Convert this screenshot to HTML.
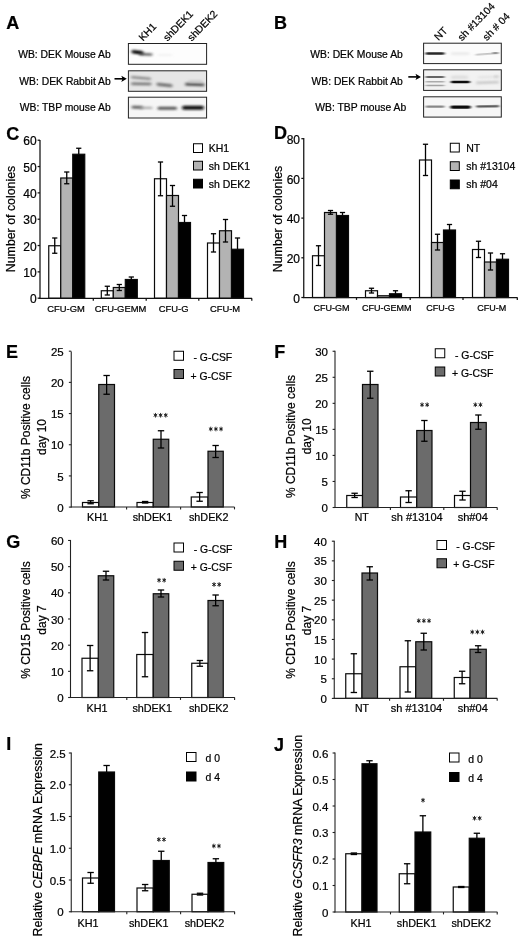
<!DOCTYPE html>
<html><head><meta charset="utf-8"><title>Figure</title>
<style>html,body{margin:0;padding:0;background:#fff;width:520px;height:940px;overflow:hidden}svg{display:block;will-change:transform;opacity:0.999;filter:blur(0.35px)}text{font-family:"Liberation Sans",sans-serif;stroke:#000;stroke-width:0.22px}</style></head>
<body>
<svg width="520" height="940" viewBox="0 0 520 940">
<rect x="0" y="0" width="520" height="940" fill="#fff"/>
<defs><filter id="b1" x="-20%" y="-200%" width="140%" height="500%"><feGaussianBlur stdDeviation="1.1 0.7"/></filter><filter id="b2" x="-20%" y="-200%" width="140%" height="500%"><feGaussianBlur stdDeviation="1.5 0.95"/></filter><filter id="b3" x="-20%" y="-200%" width="140%" height="500%"><feGaussianBlur stdDeviation="1.4 0.65"/></filter></defs>
<text x="6.20" y="28.80" font-size="18" font-weight="bold">A</text>
<text x="110.75" y="58.21" font-size="10.35" text-anchor="end" fill="#000">WB: DEK Mouse Ab</text>
<text x="110.75" y="85.11" font-size="10.35" text-anchor="end" fill="#000">WB: DEK Rabbit Ab</text>
<text x="110.75" y="111.11" font-size="10.35" text-anchor="end" fill="#000">WB: TBP mouse Ab</text>
<line x1="114.50" y1="78.80" x2="124.80" y2="78.80" stroke="#000" stroke-width="1.6"/>
<path d="M121.30 75.70 L126.80 78.80 L121.30 81.90 L122.50 78.80 Z" fill="#000"/>
<rect x="128.40" y="43.50" width="78.20" height="20.80" fill="#fdfdfd" stroke="#222" stroke-width="1"/>
<rect x="128.40" y="70.80" width="78.20" height="20.50" fill="#e6e6e6" stroke="#222" stroke-width="1"/>
<rect x="128.40" y="97.20" width="78.20" height="20.80" fill="#f6f6f6" stroke="#222" stroke-width="1"/>
<text transform="translate(143.00,41.60) rotate(-46)" font-size="10.3">KH1</text>
<text transform="translate(167.50,41.70) rotate(-46)" font-size="10.3">shDEK1</text>
<text transform="translate(191.80,41.70) rotate(-46)" font-size="10.3">shDEK2</text>
<rect x="131.50" y="50.40" width="12.00" height="3.60" rx="1.80" fill="#000" opacity="1" filter="url(#b2)" transform="rotate(7 137.50 52.20)"/>
<rect x="139.00" y="53.20" width="13.50" height="2.20" rx="1.10" fill="#333" opacity="0.85" filter="url(#b2)" transform="rotate(2 145.75 54.30)"/>
<rect x="158.00" y="54.25" width="14.00" height="1.50" rx="0.75" fill="#ddd" opacity="0.5" filter="url(#b2)" transform="rotate(0 165.00 55.00)"/>
<rect x="131.00" y="76.70" width="20.00" height="2.60" rx="1.30" fill="#777" opacity="0.85" filter="url(#b2)" transform="rotate(5 141.00 78.00)"/>
<rect x="131.00" y="82.40" width="20.50" height="2.80" rx="1.40" fill="#666" opacity="0.85" filter="url(#b2)" transform="rotate(1 141.25 83.80)"/>
<rect x="156.50" y="83.60" width="16.00" height="2.80" rx="1.40" fill="#555" opacity="0.85" filter="url(#b2)" transform="rotate(6 164.50 85.00)"/>
<rect x="185.00" y="83.10" width="19.50" height="3.00" rx="1.50" fill="#444" opacity="0.9" filter="url(#b2)" transform="rotate(2 194.75 84.60)"/>
<rect x="188.00" y="80.00" width="15.00" height="3.00" rx="1.50" fill="#bbb" opacity="0.6" filter="url(#b2)" transform="rotate(0 195.50 81.50)"/>
<rect x="131.50" y="105.80" width="11.50" height="3.00" rx="1.50" fill="#555" opacity="0.9" filter="url(#b2)" transform="rotate(2 137.25 107.30)"/>
<rect x="140.00" y="106.70" width="12.50" height="2.40" rx="1.20" fill="#999" opacity="0.8" filter="url(#b2)" transform="rotate(0 146.25 107.90)"/>
<rect x="157.50" y="106.70" width="19.50" height="3.00" rx="1.50" fill="#444" opacity="0.9" filter="url(#b2)" transform="rotate(0 167.25 108.20)"/>
<rect x="182.00" y="105.80" width="22.00" height="4.00" rx="2.00" fill="#0a0a0a" opacity="1" filter="url(#b2)" transform="rotate(0 193.00 107.80)"/>
<text x="274.00" y="28.80" font-size="18" font-weight="bold">B</text>
<text x="402.80" y="58.01" font-size="10.35" text-anchor="end" fill="#000">WB: DEK Mouse Ab</text>
<text x="402.90" y="85.11" font-size="10.35" text-anchor="end" fill="#000">WB: DEK Rabbit Ab</text>
<text x="406.25" y="110.91" font-size="10.35" text-anchor="end" fill="#000">WB: TBP mouse Ab</text>
<line x1="408.30" y1="76.90" x2="419.00" y2="76.90" stroke="#000" stroke-width="1.6"/>
<path d="M415.50 73.80 L421.00 76.90 L415.50 80.00 L416.70 76.90 Z" fill="#000"/>
<rect x="423.60" y="43.20" width="77.70" height="20.40" fill="#fbfbfb" stroke="#222" stroke-width="1"/>
<rect x="423.60" y="69.80" width="77.70" height="20.60" fill="#f2f2f2" stroke="#222" stroke-width="1"/>
<rect x="423.60" y="96.80" width="77.70" height="20.30" fill="#f6f6f6" stroke="#222" stroke-width="1"/>
<text transform="translate(438.50,41.00) rotate(-46)" font-size="10.3">NT</text>
<text transform="translate(462.00,41.50) rotate(-46)" font-size="10.3">sh #13104</text>
<text transform="translate(487.00,41.30) rotate(-46)" font-size="10.3">sh # 04</text>
<rect x="425.50" y="52.15" width="19.00" height="2.50" rx="1.25" fill="#1e1e1e" opacity="0.95" filter="url(#b3)" transform="rotate(0 435.00 53.40)"/>
<rect x="451.00" y="52.70" width="18.50" height="1.80" rx="0.90" fill="#ccc" opacity="0.55" filter="url(#b2)" transform="rotate(0 460.25 53.60)"/>
<rect x="475.50" y="52.95" width="23.50" height="1.90" rx="0.95" fill="#b0b0b0" opacity="0.75" filter="url(#b3)" transform="rotate(-4 487.25 53.90)"/>
<rect x="492.50" y="52.10" width="5.50" height="2.00" rx="1.00" fill="#777" opacity="0.7" filter="url(#b3)" transform="rotate(0 495.25 53.10)"/>
<rect x="425.50" y="76.10" width="19.00" height="2.00" rx="1.00" fill="#555" opacity="0.9" filter="url(#b3)" transform="rotate(0 435.00 77.10)"/>
<rect x="425.50" y="80.95" width="19.00" height="1.50" rx="0.75" fill="#9a9a9a" opacity="0.8" filter="url(#b3)" transform="rotate(0 435.00 81.70)"/>
<rect x="425.50" y="84.65" width="19.00" height="1.50" rx="0.75" fill="#909090" opacity="0.8" filter="url(#b3)" transform="rotate(0 435.00 85.40)"/>
<rect x="450.80" y="80.65" width="19.20" height="2.70" rx="1.35" fill="#0a0a0a" opacity="1" filter="url(#b3)" transform="rotate(0 460.40 82.00)"/>
<rect x="451.00" y="75.80" width="17.00" height="3.00" rx="1.50" fill="#ccc" opacity="0.6" filter="url(#b2)" transform="rotate(0 459.50 77.30)"/>
<rect x="476.00" y="81.60" width="23.00" height="2.00" rx="1.00" fill="#b0b0b0" opacity="0.8" filter="url(#b2)" transform="rotate(-2 487.50 82.60)"/>
<rect x="478.00" y="76.20" width="21.00" height="1.60" rx="0.80" fill="#d4d4d4" opacity="0.7" filter="url(#b2)" transform="rotate(-2 488.50 77.00)"/>
<rect x="494.00" y="75.70" width="4.50" height="1.80" rx="0.90" fill="#aaa" opacity="0.6" filter="url(#b2)" transform="rotate(0 496.25 76.60)"/>
<rect x="425.50" y="105.55" width="19.00" height="2.30" rx="1.15" fill="#7c7c7c" opacity="0.9" filter="url(#b3)" transform="rotate(0 435.00 106.70)"/>
<rect x="450.30" y="105.45" width="20.50" height="3.30" rx="1.65" fill="#111" opacity="1" filter="url(#b3)" transform="rotate(0 460.55 107.10)"/>
<rect x="476.00" y="105.15" width="23.30" height="2.30" rx="1.15" fill="#4a4a4a" opacity="0.9" filter="url(#b3)" transform="rotate(-1 487.65 106.30)"/>
<text x="6.20" y="139.60" font-size="18" font-weight="bold">C</text>
<rect x="48.75" y="245.75" width="12.00" height="52.50" fill="#fff" stroke="#0a0a0a" stroke-width="1.2"/>
<line x1="54.75" y1="238.00" x2="54.75" y2="253.25" stroke="#000" stroke-width="1.3"/>
<line x1="52.15" y1="238.00" x2="57.35" y2="238.00" stroke="#000" stroke-width="1.3"/>
<line x1="52.15" y1="253.25" x2="57.35" y2="253.25" stroke="#000" stroke-width="1.3"/>
<rect x="60.75" y="178.00" width="12.00" height="120.25" fill="#b3b3b3" stroke="#0a0a0a" stroke-width="1.2"/>
<line x1="66.75" y1="172.00" x2="66.75" y2="183.75" stroke="#000" stroke-width="1.3"/>
<line x1="64.15" y1="172.00" x2="69.35" y2="172.00" stroke="#000" stroke-width="1.3"/>
<line x1="64.15" y1="183.75" x2="69.35" y2="183.75" stroke="#000" stroke-width="1.3"/>
<rect x="72.75" y="154.25" width="12.00" height="144.00" fill="#000" stroke="#0a0a0a" stroke-width="1.2"/>
<line x1="78.75" y1="148.25" x2="78.75" y2="154.25" stroke="#000" stroke-width="1.3"/>
<line x1="76.15" y1="148.25" x2="81.35" y2="148.25" stroke="#000" stroke-width="1.3"/>
<rect x="101.30" y="290.75" width="12.00" height="7.50" fill="#fff" stroke="#0a0a0a" stroke-width="1.2"/>
<line x1="107.30" y1="286.25" x2="107.30" y2="295.00" stroke="#000" stroke-width="1.3"/>
<line x1="104.70" y1="286.25" x2="109.90" y2="286.25" stroke="#000" stroke-width="1.3"/>
<line x1="104.70" y1="295.00" x2="109.90" y2="295.00" stroke="#000" stroke-width="1.3"/>
<rect x="113.30" y="287.50" width="12.00" height="10.75" fill="#b3b3b3" stroke="#0a0a0a" stroke-width="1.2"/>
<line x1="119.30" y1="284.50" x2="119.30" y2="290.50" stroke="#000" stroke-width="1.3"/>
<line x1="116.70" y1="284.50" x2="121.90" y2="284.50" stroke="#000" stroke-width="1.3"/>
<line x1="116.70" y1="290.50" x2="121.90" y2="290.50" stroke="#000" stroke-width="1.3"/>
<rect x="125.30" y="279.50" width="12.00" height="18.75" fill="#000" stroke="#0a0a0a" stroke-width="1.2"/>
<line x1="131.30" y1="277.00" x2="131.30" y2="279.50" stroke="#000" stroke-width="1.3"/>
<line x1="128.70" y1="277.00" x2="133.90" y2="277.00" stroke="#000" stroke-width="1.3"/>
<rect x="154.50" y="178.75" width="12.00" height="119.50" fill="#fff" stroke="#0a0a0a" stroke-width="1.2"/>
<line x1="160.50" y1="162.00" x2="160.50" y2="195.75" stroke="#000" stroke-width="1.3"/>
<line x1="157.90" y1="162.00" x2="163.10" y2="162.00" stroke="#000" stroke-width="1.3"/>
<line x1="157.90" y1="195.75" x2="163.10" y2="195.75" stroke="#000" stroke-width="1.3"/>
<rect x="166.50" y="195.50" width="12.00" height="102.75" fill="#b3b3b3" stroke="#0a0a0a" stroke-width="1.2"/>
<line x1="172.50" y1="185.50" x2="172.50" y2="206.25" stroke="#000" stroke-width="1.3"/>
<line x1="169.90" y1="185.50" x2="175.10" y2="185.50" stroke="#000" stroke-width="1.3"/>
<line x1="169.90" y1="206.25" x2="175.10" y2="206.25" stroke="#000" stroke-width="1.3"/>
<rect x="178.50" y="222.50" width="12.00" height="75.75" fill="#000" stroke="#0a0a0a" stroke-width="1.2"/>
<line x1="184.50" y1="215.50" x2="184.50" y2="222.50" stroke="#000" stroke-width="1.3"/>
<line x1="181.90" y1="215.50" x2="187.10" y2="215.50" stroke="#000" stroke-width="1.3"/>
<rect x="207.50" y="243.00" width="12.00" height="55.25" fill="#fff" stroke="#0a0a0a" stroke-width="1.2"/>
<line x1="213.50" y1="233.75" x2="213.50" y2="252.00" stroke="#000" stroke-width="1.3"/>
<line x1="210.90" y1="233.75" x2="216.10" y2="233.75" stroke="#000" stroke-width="1.3"/>
<line x1="210.90" y1="252.00" x2="216.10" y2="252.00" stroke="#000" stroke-width="1.3"/>
<rect x="219.50" y="230.75" width="12.00" height="67.50" fill="#b3b3b3" stroke="#0a0a0a" stroke-width="1.2"/>
<line x1="225.50" y1="219.50" x2="225.50" y2="242.00" stroke="#000" stroke-width="1.3"/>
<line x1="222.90" y1="219.50" x2="228.10" y2="219.50" stroke="#000" stroke-width="1.3"/>
<line x1="222.90" y1="242.00" x2="228.10" y2="242.00" stroke="#000" stroke-width="1.3"/>
<rect x="231.50" y="249.25" width="12.00" height="49.00" fill="#000" stroke="#0a0a0a" stroke-width="1.2"/>
<line x1="237.50" y1="238.00" x2="237.50" y2="249.25" stroke="#000" stroke-width="1.3"/>
<line x1="234.90" y1="238.00" x2="240.10" y2="238.00" stroke="#000" stroke-width="1.3"/>
<line x1="40.00" y1="139.88" x2="40.00" y2="298.88" stroke="#111" stroke-width="1.25"/>
<line x1="39.38" y1="298.25" x2="252.00" y2="298.25" stroke="#111" stroke-width="1.25"/>
<line x1="37.60" y1="298.20" x2="40.00" y2="298.20" stroke="#111" stroke-width="1.25"/>
<text x="36.70" y="303.40" font-size="12" text-anchor="end" fill="#000">0</text>
<line x1="37.60" y1="271.87" x2="40.00" y2="271.87" stroke="#111" stroke-width="1.25"/>
<text x="36.70" y="277.07" font-size="12" text-anchor="end" fill="#000">10</text>
<line x1="37.60" y1="245.54" x2="40.00" y2="245.54" stroke="#111" stroke-width="1.25"/>
<text x="36.70" y="250.74" font-size="12" text-anchor="end" fill="#000">20</text>
<line x1="37.60" y1="219.21" x2="40.00" y2="219.21" stroke="#111" stroke-width="1.25"/>
<text x="36.70" y="224.41" font-size="12" text-anchor="end" fill="#000">30</text>
<line x1="37.60" y1="192.88" x2="40.00" y2="192.88" stroke="#111" stroke-width="1.25"/>
<text x="36.70" y="198.08" font-size="12" text-anchor="end" fill="#000">40</text>
<line x1="37.60" y1="166.55" x2="40.00" y2="166.55" stroke="#111" stroke-width="1.25"/>
<text x="36.70" y="171.75" font-size="12" text-anchor="end" fill="#000">50</text>
<line x1="37.60" y1="140.22" x2="40.00" y2="140.22" stroke="#111" stroke-width="1.25"/>
<text x="36.70" y="145.42" font-size="12" text-anchor="end" fill="#000">60</text>
<line x1="93.30" y1="298.25" x2="93.30" y2="300.65" stroke="#111" stroke-width="1.25"/>
<line x1="146.20" y1="298.25" x2="146.20" y2="300.65" stroke="#111" stroke-width="1.25"/>
<line x1="198.80" y1="298.25" x2="198.80" y2="300.65" stroke="#111" stroke-width="1.25"/>
<line x1="251.80" y1="298.25" x2="251.80" y2="300.65" stroke="#111" stroke-width="1.25"/>
<text x="66.00" y="311.62" font-size="9.4" text-anchor="middle" fill="#000">CFU-GM</text>
<text x="120.50" y="311.62" font-size="9.4" text-anchor="middle" fill="#000">CFU-GEMM</text>
<text x="173.60" y="311.62" font-size="9.4" text-anchor="middle" fill="#000">CFU-G</text>
<text x="225.00" y="311.62" font-size="9.4" text-anchor="middle" fill="#000">CFU-M</text>
<text transform="translate(15.02,219.00) rotate(-90)" font-size="12.35" text-anchor="middle">Number of colonies</text>
<rect x="193.50" y="143.75" width="9.00" height="8.75" fill="#fff" stroke="#000" stroke-width="1"/>
<text x="208.75" y="152.11" font-size="10.5" text-anchor="start" fill="#000">KH1</text>
<rect x="193.50" y="161.25" width="9.00" height="8.75" fill="#b3b3b3" stroke="#000" stroke-width="1"/>
<text x="208.75" y="169.61" font-size="10.5" text-anchor="start" fill="#000">sh DEK1</text>
<rect x="193.50" y="179.25" width="9.00" height="8.75" fill="#000" stroke="#000" stroke-width="1"/>
<text x="208.75" y="187.61" font-size="10.5" text-anchor="start" fill="#000">sh DEK2</text>
<text x="274.10" y="139.40" font-size="18" font-weight="bold">D</text>
<rect x="312.50" y="255.75" width="12.00" height="41.75" fill="#fff" stroke="#0a0a0a" stroke-width="1.2"/>
<line x1="318.50" y1="245.75" x2="318.50" y2="265.50" stroke="#000" stroke-width="1.3"/>
<line x1="315.90" y1="245.75" x2="321.10" y2="245.75" stroke="#000" stroke-width="1.3"/>
<line x1="315.90" y1="265.50" x2="321.10" y2="265.50" stroke="#000" stroke-width="1.3"/>
<rect x="324.50" y="212.50" width="12.00" height="85.00" fill="#b3b3b3" stroke="#0a0a0a" stroke-width="1.2"/>
<line x1="330.50" y1="210.50" x2="330.50" y2="214.25" stroke="#000" stroke-width="1.3"/>
<line x1="327.90" y1="210.50" x2="333.10" y2="210.50" stroke="#000" stroke-width="1.3"/>
<line x1="327.90" y1="214.25" x2="333.10" y2="214.25" stroke="#000" stroke-width="1.3"/>
<rect x="336.50" y="215.50" width="12.00" height="82.00" fill="#000" stroke="#0a0a0a" stroke-width="1.2"/>
<line x1="342.50" y1="212.50" x2="342.50" y2="215.50" stroke="#000" stroke-width="1.3"/>
<line x1="339.90" y1="212.50" x2="345.10" y2="212.50" stroke="#000" stroke-width="1.3"/>
<rect x="365.50" y="290.75" width="12.00" height="6.75" fill="#fff" stroke="#0a0a0a" stroke-width="1.2"/>
<line x1="371.50" y1="288.25" x2="371.50" y2="293.00" stroke="#000" stroke-width="1.3"/>
<line x1="368.90" y1="288.25" x2="374.10" y2="288.25" stroke="#000" stroke-width="1.3"/>
<line x1="368.90" y1="293.00" x2="374.10" y2="293.00" stroke="#000" stroke-width="1.3"/>
<rect x="377.50" y="295.75" width="12.00" height="1.75" fill="#b3b3b3" stroke="#0a0a0a" stroke-width="1.2"/>
<rect x="389.50" y="293.75" width="12.00" height="3.75" fill="#000" stroke="#0a0a0a" stroke-width="1.2"/>
<line x1="395.50" y1="290.75" x2="395.50" y2="293.75" stroke="#000" stroke-width="1.3"/>
<line x1="392.90" y1="290.75" x2="398.10" y2="290.75" stroke="#000" stroke-width="1.3"/>
<rect x="419.50" y="160.00" width="12.00" height="137.50" fill="#fff" stroke="#0a0a0a" stroke-width="1.2"/>
<line x1="425.50" y1="144.25" x2="425.50" y2="175.50" stroke="#000" stroke-width="1.3"/>
<line x1="422.90" y1="144.25" x2="428.10" y2="144.25" stroke="#000" stroke-width="1.3"/>
<line x1="422.90" y1="175.50" x2="428.10" y2="175.50" stroke="#000" stroke-width="1.3"/>
<rect x="431.50" y="242.50" width="12.00" height="55.00" fill="#b3b3b3" stroke="#0a0a0a" stroke-width="1.2"/>
<line x1="437.50" y1="234.25" x2="437.50" y2="250.00" stroke="#000" stroke-width="1.3"/>
<line x1="434.90" y1="234.25" x2="440.10" y2="234.25" stroke="#000" stroke-width="1.3"/>
<line x1="434.90" y1="250.00" x2="440.10" y2="250.00" stroke="#000" stroke-width="1.3"/>
<rect x="443.50" y="230.00" width="12.00" height="67.50" fill="#000" stroke="#0a0a0a" stroke-width="1.2"/>
<line x1="449.50" y1="224.50" x2="449.50" y2="230.00" stroke="#000" stroke-width="1.3"/>
<line x1="446.90" y1="224.50" x2="452.10" y2="224.50" stroke="#000" stroke-width="1.3"/>
<rect x="472.50" y="249.50" width="12.00" height="48.00" fill="#fff" stroke="#0a0a0a" stroke-width="1.2"/>
<line x1="478.50" y1="241.25" x2="478.50" y2="257.50" stroke="#000" stroke-width="1.3"/>
<line x1="475.90" y1="241.25" x2="481.10" y2="241.25" stroke="#000" stroke-width="1.3"/>
<line x1="475.90" y1="257.50" x2="481.10" y2="257.50" stroke="#000" stroke-width="1.3"/>
<rect x="484.50" y="262.00" width="12.00" height="35.50" fill="#b3b3b3" stroke="#0a0a0a" stroke-width="1.2"/>
<line x1="490.50" y1="253.00" x2="490.50" y2="270.00" stroke="#000" stroke-width="1.3"/>
<line x1="487.90" y1="253.00" x2="493.10" y2="253.00" stroke="#000" stroke-width="1.3"/>
<line x1="487.90" y1="270.00" x2="493.10" y2="270.00" stroke="#000" stroke-width="1.3"/>
<rect x="496.50" y="259.25" width="12.00" height="38.25" fill="#000" stroke="#0a0a0a" stroke-width="1.2"/>
<line x1="502.50" y1="253.75" x2="502.50" y2="259.25" stroke="#000" stroke-width="1.3"/>
<line x1="499.90" y1="253.75" x2="505.10" y2="253.75" stroke="#000" stroke-width="1.3"/>
<line x1="303.75" y1="138.12" x2="303.75" y2="298.12" stroke="#111" stroke-width="1.25"/>
<line x1="303.12" y1="297.50" x2="517.50" y2="297.50" stroke="#111" stroke-width="1.25"/>
<line x1="301.35" y1="297.50" x2="303.75" y2="297.50" stroke="#111" stroke-width="1.25"/>
<text x="300.00" y="302.70" font-size="12" text-anchor="end" fill="#000">0</text>
<line x1="301.35" y1="257.80" x2="303.75" y2="257.80" stroke="#111" stroke-width="1.25"/>
<text x="300.00" y="263.00" font-size="12" text-anchor="end" fill="#000">20</text>
<line x1="301.35" y1="218.10" x2="303.75" y2="218.10" stroke="#111" stroke-width="1.25"/>
<text x="300.00" y="223.30" font-size="12" text-anchor="end" fill="#000">40</text>
<line x1="301.35" y1="178.40" x2="303.75" y2="178.40" stroke="#111" stroke-width="1.25"/>
<text x="300.00" y="183.60" font-size="12" text-anchor="end" fill="#000">60</text>
<line x1="301.35" y1="138.70" x2="303.75" y2="138.70" stroke="#111" stroke-width="1.25"/>
<text x="300.00" y="143.90" font-size="12" text-anchor="end" fill="#000">80</text>
<line x1="356.50" y1="297.50" x2="356.50" y2="299.90" stroke="#111" stroke-width="1.25"/>
<line x1="410.20" y1="297.50" x2="410.20" y2="299.90" stroke="#111" stroke-width="1.25"/>
<line x1="463.00" y1="297.50" x2="463.00" y2="299.90" stroke="#111" stroke-width="1.25"/>
<line x1="517.30" y1="297.50" x2="517.30" y2="299.90" stroke="#111" stroke-width="1.25"/>
<text x="331.60" y="311.47" font-size="9" text-anchor="middle" fill="#000">CFU-GM</text>
<text x="386.80" y="311.47" font-size="9" text-anchor="middle" fill="#000">CFU-GEMM</text>
<text x="440.40" y="311.47" font-size="9" text-anchor="middle" fill="#000">CFU-G</text>
<text x="491.80" y="311.47" font-size="9" text-anchor="middle" fill="#000">CFU-M</text>
<text transform="translate(282.02,219.00) rotate(-90)" font-size="12.35" text-anchor="middle">Number of colonies</text>
<rect x="450.30" y="143.25" width="9.00" height="8.75" fill="#fff" stroke="#000" stroke-width="1"/>
<text x="466.25" y="151.61" font-size="10.5" text-anchor="start" fill="#000">NT</text>
<rect x="450.30" y="161.75" width="9.00" height="8.75" fill="#b3b3b3" stroke="#000" stroke-width="1"/>
<text x="466.25" y="170.11" font-size="10.5" text-anchor="start" fill="#000">sh #13104</text>
<rect x="450.30" y="180.00" width="9.00" height="8.75" fill="#000" stroke="#000" stroke-width="1"/>
<text x="466.25" y="188.36" font-size="10.5" text-anchor="start" fill="#000">sh #04</text>
<text x="6.00" y="357.60" font-size="18" font-weight="bold">E</text>
<rect x="82.50" y="502.50" width="16.25" height="4.50" fill="#fff" stroke="#0a0a0a" stroke-width="1.2"/>
<rect x="98.75" y="384.50" width="15.75" height="122.50" fill="#6b6b6b" stroke="#0a0a0a" stroke-width="1.2"/>
<line x1="90.62" y1="500.75" x2="90.62" y2="503.75" stroke="#000" stroke-width="1.3"/>
<line x1="87.42" y1="500.75" x2="93.83" y2="500.75" stroke="#000" stroke-width="1.3"/>
<line x1="87.42" y1="503.75" x2="93.83" y2="503.75" stroke="#000" stroke-width="1.3"/>
<line x1="106.62" y1="375.50" x2="106.62" y2="394.25" stroke="#000" stroke-width="1.3"/>
<line x1="103.42" y1="375.50" x2="109.83" y2="375.50" stroke="#000" stroke-width="1.3"/>
<line x1="103.42" y1="394.25" x2="109.83" y2="394.25" stroke="#000" stroke-width="1.3"/>
<rect x="137.00" y="502.50" width="16.25" height="4.50" fill="#fff" stroke="#0a0a0a" stroke-width="1.2"/>
<rect x="153.25" y="439.25" width="15.50" height="67.75" fill="#6b6b6b" stroke="#0a0a0a" stroke-width="1.2"/>
<line x1="145.12" y1="501.50" x2="145.12" y2="503.00" stroke="#000" stroke-width="1.3"/>
<line x1="141.93" y1="501.50" x2="148.32" y2="501.50" stroke="#000" stroke-width="1.3"/>
<line x1="141.93" y1="503.00" x2="148.32" y2="503.00" stroke="#000" stroke-width="1.3"/>
<line x1="161.00" y1="430.75" x2="161.00" y2="448.00" stroke="#000" stroke-width="1.3"/>
<line x1="157.80" y1="430.75" x2="164.20" y2="430.75" stroke="#000" stroke-width="1.3"/>
<line x1="157.80" y1="448.00" x2="164.20" y2="448.00" stroke="#000" stroke-width="1.3"/>
<rect x="191.25" y="497.00" width="16.75" height="10.00" fill="#fff" stroke="#0a0a0a" stroke-width="1.2"/>
<rect x="208.00" y="451.25" width="15.25" height="55.75" fill="#6b6b6b" stroke="#0a0a0a" stroke-width="1.2"/>
<line x1="199.62" y1="492.50" x2="199.62" y2="501.25" stroke="#000" stroke-width="1.3"/>
<line x1="196.43" y1="492.50" x2="202.82" y2="492.50" stroke="#000" stroke-width="1.3"/>
<line x1="196.43" y1="501.25" x2="202.82" y2="501.25" stroke="#000" stroke-width="1.3"/>
<line x1="215.62" y1="445.50" x2="215.62" y2="457.50" stroke="#000" stroke-width="1.3"/>
<line x1="212.43" y1="445.50" x2="218.82" y2="445.50" stroke="#000" stroke-width="1.3"/>
<line x1="212.43" y1="457.50" x2="218.82" y2="457.50" stroke="#000" stroke-width="1.3"/>
<line x1="71.25" y1="351.45" x2="71.25" y2="507.55" stroke="#222" stroke-width="1.1"/>
<line x1="70.70" y1="507.00" x2="234.50" y2="507.00" stroke="#222" stroke-width="1.1"/>
<line x1="68.85" y1="507.10" x2="71.25" y2="507.10" stroke="#222" stroke-width="1.1"/>
<text x="63.75" y="511.72" font-size="11.5" text-anchor="end" fill="#000">0</text>
<line x1="68.85" y1="475.92" x2="71.25" y2="475.92" stroke="#222" stroke-width="1.1"/>
<text x="63.75" y="480.54" font-size="11.5" text-anchor="end" fill="#000">5</text>
<line x1="68.85" y1="444.74" x2="71.25" y2="444.74" stroke="#222" stroke-width="1.1"/>
<text x="63.75" y="449.36" font-size="11.5" text-anchor="end" fill="#000">10</text>
<line x1="68.85" y1="413.56" x2="71.25" y2="413.56" stroke="#222" stroke-width="1.1"/>
<text x="63.75" y="418.18" font-size="11.5" text-anchor="end" fill="#000">15</text>
<line x1="68.85" y1="382.38" x2="71.25" y2="382.38" stroke="#222" stroke-width="1.1"/>
<text x="63.75" y="387.00" font-size="11.5" text-anchor="end" fill="#000">20</text>
<line x1="68.85" y1="351.20" x2="71.25" y2="351.20" stroke="#222" stroke-width="1.1"/>
<text x="63.75" y="355.82" font-size="11.5" text-anchor="end" fill="#000">25</text>
<line x1="126.60" y1="507.00" x2="126.60" y2="509.40" stroke="#222" stroke-width="1.1"/>
<line x1="180.60" y1="507.00" x2="180.60" y2="509.40" stroke="#222" stroke-width="1.1"/>
<line x1="234.50" y1="507.00" x2="234.50" y2="509.40" stroke="#222" stroke-width="1.1"/>
<text x="97.50" y="520.57" font-size="10.8" text-anchor="middle" fill="#000">KH1</text>
<text x="152.50" y="520.57" font-size="10.8" text-anchor="middle" fill="#000">shDEK1</text>
<text x="208.75" y="520.57" font-size="10.8" text-anchor="middle" fill="#000">shDEK2</text>
<text transform="translate(29.80,437.50) rotate(-90)" font-size="12" text-anchor="middle">% CD11b Positive cells</text>
<text transform="translate(46.30,437.00) rotate(-90)" font-size="12" text-anchor="middle">day 10</text>
<rect x="174.00" y="351.25" width="9.50" height="9.00" fill="#fff" stroke="#000" stroke-width="1"/>
<text x="193.50" y="360.92" font-size="10.4" text-anchor="start" fill="#000">- G-CSF</text>
<rect x="174.00" y="369.50" width="9.50" height="9.00" fill="#6b6b6b" stroke="#000" stroke-width="1"/>
<text x="190.50" y="379.52" font-size="10.4" text-anchor="start" fill="#000">+ G-CSF</text>
<path d="M155.45 412.95L155.45 417.55M153.62 414.06L157.28 416.44M157.28 414.06L153.62 416.44" stroke="#222" stroke-width="0.95" fill="none"/><circle cx="155.45" cy="415.25" r="1.05" fill="#222"/>
<path d="M160.60 412.95L160.60 417.55M158.77 414.06L162.43 416.44M162.43 414.06L158.77 416.44" stroke="#222" stroke-width="0.95" fill="none"/><circle cx="160.60" cy="415.25" r="1.05" fill="#222"/>
<path d="M165.75 412.95L165.75 417.55M163.92 414.06L167.58 416.44M167.58 414.06L163.92 416.44" stroke="#222" stroke-width="0.95" fill="none"/><circle cx="165.75" cy="415.25" r="1.05" fill="#222"/>
<path d="M210.75 426.70L210.75 431.30M208.92 427.81L212.58 430.19M212.58 427.81L208.92 430.19" stroke="#222" stroke-width="0.95" fill="none"/><circle cx="210.75" cy="429.00" r="1.05" fill="#222"/>
<path d="M215.90 426.70L215.90 431.30M214.07 427.81L217.73 430.19M217.73 427.81L214.07 430.19" stroke="#222" stroke-width="0.95" fill="none"/><circle cx="215.90" cy="429.00" r="1.05" fill="#222"/>
<path d="M221.05 426.70L221.05 431.30M219.22 427.81L222.88 430.19M222.88 427.81L219.22 430.19" stroke="#222" stroke-width="0.95" fill="none"/><circle cx="221.05" cy="429.00" r="1.05" fill="#222"/>
<text x="274.20" y="357.60" font-size="18" font-weight="bold">F</text>
<rect x="346.75" y="495.50" width="15.75" height="12.00" fill="#fff" stroke="#0a0a0a" stroke-width="1.2"/>
<rect x="362.50" y="384.50" width="15.50" height="123.00" fill="#6b6b6b" stroke="#0a0a0a" stroke-width="1.2"/>
<line x1="354.62" y1="493.25" x2="354.62" y2="497.50" stroke="#000" stroke-width="1.3"/>
<line x1="351.43" y1="493.25" x2="357.82" y2="493.25" stroke="#000" stroke-width="1.3"/>
<line x1="351.43" y1="497.50" x2="357.82" y2="497.50" stroke="#000" stroke-width="1.3"/>
<line x1="370.25" y1="371.25" x2="370.25" y2="398.25" stroke="#000" stroke-width="1.3"/>
<line x1="367.05" y1="371.25" x2="373.45" y2="371.25" stroke="#000" stroke-width="1.3"/>
<line x1="367.05" y1="398.25" x2="373.45" y2="398.25" stroke="#000" stroke-width="1.3"/>
<rect x="400.50" y="497.00" width="16.25" height="10.50" fill="#fff" stroke="#0a0a0a" stroke-width="1.2"/>
<rect x="416.75" y="430.50" width="15.25" height="77.00" fill="#6b6b6b" stroke="#0a0a0a" stroke-width="1.2"/>
<line x1="408.62" y1="490.75" x2="408.62" y2="502.50" stroke="#000" stroke-width="1.3"/>
<line x1="405.43" y1="490.75" x2="411.82" y2="490.75" stroke="#000" stroke-width="1.3"/>
<line x1="405.43" y1="502.50" x2="411.82" y2="502.50" stroke="#000" stroke-width="1.3"/>
<line x1="424.38" y1="420.50" x2="424.38" y2="441.25" stroke="#000" stroke-width="1.3"/>
<line x1="421.18" y1="420.50" x2="427.57" y2="420.50" stroke="#000" stroke-width="1.3"/>
<line x1="421.18" y1="441.25" x2="427.57" y2="441.25" stroke="#000" stroke-width="1.3"/>
<rect x="454.50" y="495.50" width="16.00" height="12.00" fill="#fff" stroke="#0a0a0a" stroke-width="1.2"/>
<rect x="470.50" y="422.50" width="15.75" height="85.00" fill="#6b6b6b" stroke="#0a0a0a" stroke-width="1.2"/>
<line x1="462.50" y1="491.25" x2="462.50" y2="500.00" stroke="#000" stroke-width="1.3"/>
<line x1="459.30" y1="491.25" x2="465.70" y2="491.25" stroke="#000" stroke-width="1.3"/>
<line x1="459.30" y1="500.00" x2="465.70" y2="500.00" stroke="#000" stroke-width="1.3"/>
<line x1="478.38" y1="415.00" x2="478.38" y2="429.25" stroke="#000" stroke-width="1.3"/>
<line x1="475.18" y1="415.00" x2="481.57" y2="415.00" stroke="#000" stroke-width="1.3"/>
<line x1="475.18" y1="429.25" x2="481.57" y2="429.25" stroke="#000" stroke-width="1.3"/>
<line x1="335.00" y1="350.70" x2="335.00" y2="508.05" stroke="#222" stroke-width="1.1"/>
<line x1="334.45" y1="507.50" x2="497.30" y2="507.50" stroke="#222" stroke-width="1.1"/>
<line x1="332.60" y1="507.50" x2="335.00" y2="507.50" stroke="#222" stroke-width="1.1"/>
<text x="328.00" y="512.12" font-size="11.5" text-anchor="end" fill="#000">0</text>
<line x1="332.60" y1="481.46" x2="335.00" y2="481.46" stroke="#222" stroke-width="1.1"/>
<text x="328.00" y="486.08" font-size="11.5" text-anchor="end" fill="#000">5</text>
<line x1="332.60" y1="455.42" x2="335.00" y2="455.42" stroke="#222" stroke-width="1.1"/>
<text x="328.00" y="460.04" font-size="11.5" text-anchor="end" fill="#000">10</text>
<line x1="332.60" y1="429.38" x2="335.00" y2="429.38" stroke="#222" stroke-width="1.1"/>
<text x="328.00" y="434.00" font-size="11.5" text-anchor="end" fill="#000">15</text>
<line x1="332.60" y1="403.34" x2="335.00" y2="403.34" stroke="#222" stroke-width="1.1"/>
<text x="328.00" y="407.96" font-size="11.5" text-anchor="end" fill="#000">20</text>
<line x1="332.60" y1="377.30" x2="335.00" y2="377.30" stroke="#222" stroke-width="1.1"/>
<text x="328.00" y="381.92" font-size="11.5" text-anchor="end" fill="#000">25</text>
<line x1="332.60" y1="351.26" x2="335.00" y2="351.26" stroke="#222" stroke-width="1.1"/>
<text x="328.00" y="355.88" font-size="11.5" text-anchor="end" fill="#000">30</text>
<line x1="390.40" y1="507.50" x2="390.40" y2="509.90" stroke="#222" stroke-width="1.1"/>
<line x1="443.80" y1="507.50" x2="443.80" y2="509.90" stroke="#222" stroke-width="1.1"/>
<line x1="497.20" y1="507.50" x2="497.20" y2="509.90" stroke="#222" stroke-width="1.1"/>
<text x="361.70" y="520.51" font-size="10.5" text-anchor="middle" fill="#000">NT</text>
<text x="417.00" y="520.69" font-size="11" text-anchor="middle" fill="#000">sh #13104</text>
<text x="472.75" y="520.72" font-size="11.1" text-anchor="middle" fill="#000">sh#04</text>
<text transform="translate(295.30,436.50) rotate(-90)" font-size="12" text-anchor="middle">% CD11b Positive cells</text>
<text transform="translate(311.30,436.30) rotate(-90)" font-size="12" text-anchor="middle">day 10</text>
<rect x="435.25" y="348.75" width="9.50" height="9.00" fill="#fff" stroke="#000" stroke-width="1"/>
<text x="455.00" y="359.22" font-size="10.4" text-anchor="start" fill="#000">- G-CSF</text>
<rect x="435.25" y="367.00" width="9.50" height="9.00" fill="#6b6b6b" stroke="#000" stroke-width="1"/>
<text x="452.00" y="377.12" font-size="10.4" text-anchor="start" fill="#000">+ G-CSF</text>
<path d="M422.03 402.45L422.03 407.05M420.19 403.56L423.86 405.94M423.86 403.56L420.19 405.94" stroke="#222" stroke-width="0.95" fill="none"/><circle cx="422.03" cy="404.75" r="1.05" fill="#222"/>
<path d="M427.18 402.45L427.18 407.05M425.34 403.56L429.01 405.94M429.01 403.56L425.34 405.94" stroke="#222" stroke-width="0.95" fill="none"/><circle cx="427.18" cy="404.75" r="1.05" fill="#222"/>
<path d="M475.32 402.45L475.32 407.05M473.49 403.56L477.16 405.94M477.16 403.56L473.49 405.94" stroke="#222" stroke-width="0.95" fill="none"/><circle cx="475.32" cy="404.75" r="1.05" fill="#222"/>
<path d="M480.47 402.45L480.47 407.05M478.64 403.56L482.31 405.94M482.31 403.56L478.64 405.94" stroke="#222" stroke-width="0.95" fill="none"/><circle cx="480.47" cy="404.75" r="1.05" fill="#222"/>
<text x="6.20" y="547.90" font-size="18" font-weight="bold">G</text>
<rect x="82.00" y="658.25" width="16.25" height="39.25" fill="#fff" stroke="#0a0a0a" stroke-width="1.2"/>
<rect x="98.25" y="575.75" width="15.50" height="121.75" fill="#6b6b6b" stroke="#0a0a0a" stroke-width="1.2"/>
<line x1="90.12" y1="645.50" x2="90.12" y2="670.75" stroke="#000" stroke-width="1.3"/>
<line x1="86.92" y1="645.50" x2="93.33" y2="645.50" stroke="#000" stroke-width="1.3"/>
<line x1="86.92" y1="670.75" x2="93.33" y2="670.75" stroke="#000" stroke-width="1.3"/>
<line x1="106.00" y1="571.25" x2="106.00" y2="580.00" stroke="#000" stroke-width="1.3"/>
<line x1="102.80" y1="571.25" x2="109.20" y2="571.25" stroke="#000" stroke-width="1.3"/>
<line x1="102.80" y1="580.00" x2="109.20" y2="580.00" stroke="#000" stroke-width="1.3"/>
<rect x="136.75" y="654.50" width="16.50" height="43.00" fill="#fff" stroke="#0a0a0a" stroke-width="1.2"/>
<rect x="153.25" y="593.75" width="15.50" height="103.75" fill="#6b6b6b" stroke="#0a0a0a" stroke-width="1.2"/>
<line x1="145.00" y1="632.50" x2="145.00" y2="676.75" stroke="#000" stroke-width="1.3"/>
<line x1="141.80" y1="632.50" x2="148.20" y2="632.50" stroke="#000" stroke-width="1.3"/>
<line x1="141.80" y1="676.75" x2="148.20" y2="676.75" stroke="#000" stroke-width="1.3"/>
<line x1="161.00" y1="590.00" x2="161.00" y2="597.00" stroke="#000" stroke-width="1.3"/>
<line x1="157.80" y1="590.00" x2="164.20" y2="590.00" stroke="#000" stroke-width="1.3"/>
<line x1="157.80" y1="597.00" x2="164.20" y2="597.00" stroke="#000" stroke-width="1.3"/>
<rect x="191.75" y="663.25" width="16.25" height="34.25" fill="#fff" stroke="#0a0a0a" stroke-width="1.2"/>
<rect x="208.00" y="600.50" width="15.25" height="97.00" fill="#6b6b6b" stroke="#0a0a0a" stroke-width="1.2"/>
<line x1="199.88" y1="660.50" x2="199.88" y2="666.25" stroke="#000" stroke-width="1.3"/>
<line x1="196.68" y1="660.50" x2="203.07" y2="660.50" stroke="#000" stroke-width="1.3"/>
<line x1="196.68" y1="666.25" x2="203.07" y2="666.25" stroke="#000" stroke-width="1.3"/>
<line x1="215.62" y1="595.00" x2="215.62" y2="605.75" stroke="#000" stroke-width="1.3"/>
<line x1="212.43" y1="595.00" x2="218.82" y2="595.00" stroke="#000" stroke-width="1.3"/>
<line x1="212.43" y1="605.75" x2="218.82" y2="605.75" stroke="#000" stroke-width="1.3"/>
<line x1="70.50" y1="539.95" x2="70.50" y2="698.05" stroke="#222" stroke-width="1.1"/>
<line x1="69.95" y1="697.50" x2="234.80" y2="697.50" stroke="#222" stroke-width="1.1"/>
<line x1="68.10" y1="697.50" x2="70.50" y2="697.50" stroke="#222" stroke-width="1.1"/>
<text x="63.75" y="702.12" font-size="11.5" text-anchor="end" fill="#000">0</text>
<line x1="68.10" y1="671.33" x2="70.50" y2="671.33" stroke="#222" stroke-width="1.1"/>
<text x="63.75" y="675.95" font-size="11.5" text-anchor="end" fill="#000">10</text>
<line x1="68.10" y1="645.16" x2="70.50" y2="645.16" stroke="#222" stroke-width="1.1"/>
<text x="63.75" y="649.78" font-size="11.5" text-anchor="end" fill="#000">20</text>
<line x1="68.10" y1="618.99" x2="70.50" y2="618.99" stroke="#222" stroke-width="1.1"/>
<text x="63.75" y="623.61" font-size="11.5" text-anchor="end" fill="#000">30</text>
<line x1="68.10" y1="592.82" x2="70.50" y2="592.82" stroke="#222" stroke-width="1.1"/>
<text x="63.75" y="597.44" font-size="11.5" text-anchor="end" fill="#000">40</text>
<line x1="68.10" y1="566.65" x2="70.50" y2="566.65" stroke="#222" stroke-width="1.1"/>
<text x="63.75" y="571.27" font-size="11.5" text-anchor="end" fill="#000">50</text>
<line x1="68.10" y1="540.48" x2="70.50" y2="540.48" stroke="#222" stroke-width="1.1"/>
<text x="63.75" y="545.10" font-size="11.5" text-anchor="end" fill="#000">60</text>
<line x1="126.80" y1="697.50" x2="126.80" y2="699.90" stroke="#222" stroke-width="1.1"/>
<line x1="180.50" y1="697.50" x2="180.50" y2="699.90" stroke="#222" stroke-width="1.1"/>
<line x1="234.60" y1="697.50" x2="234.60" y2="699.90" stroke="#222" stroke-width="1.1"/>
<text x="97.00" y="711.87" font-size="10.8" text-anchor="middle" fill="#000">KH1</text>
<text x="152.20" y="711.87" font-size="10.8" text-anchor="middle" fill="#000">shDEK1</text>
<text x="208.75" y="711.87" font-size="10.8" text-anchor="middle" fill="#000">shDEK2</text>
<text transform="translate(29.80,620.00) rotate(-90)" font-size="12" text-anchor="middle">% CD15 Positive cells</text>
<text transform="translate(46.30,620.00) rotate(-90)" font-size="12" text-anchor="middle">day 7</text>
<rect x="174.00" y="543.00" width="9.50" height="9.00" fill="#fff" stroke="#000" stroke-width="1"/>
<text x="193.75" y="552.52" font-size="10.4" text-anchor="start" fill="#000">- G-CSF</text>
<rect x="174.00" y="561.25" width="9.50" height="9.00" fill="#6b6b6b" stroke="#000" stroke-width="1"/>
<text x="190.75" y="570.72" font-size="10.4" text-anchor="start" fill="#000">+ G-CSF</text>
<path d="M159.03 577.95L159.03 582.55M157.19 579.06L160.86 581.44M160.86 579.06L157.19 581.44" stroke="#222" stroke-width="0.95" fill="none"/><circle cx="159.03" cy="580.25" r="1.05" fill="#222"/>
<path d="M164.17 577.95L164.17 582.55M162.34 579.06L166.01 581.44M166.01 579.06L162.34 581.44" stroke="#222" stroke-width="0.95" fill="none"/><circle cx="164.17" cy="580.25" r="1.05" fill="#222"/>
<path d="M214.03 582.20L214.03 586.80M212.19 583.31L215.86 585.69M215.86 583.31L212.19 585.69" stroke="#222" stroke-width="0.95" fill="none"/><circle cx="214.03" cy="584.50" r="1.05" fill="#222"/>
<path d="M219.17 582.20L219.17 586.80M217.34 583.31L221.01 585.69M221.01 583.31L217.34 585.69" stroke="#222" stroke-width="0.95" fill="none"/><circle cx="219.17" cy="584.50" r="1.05" fill="#222"/>
<text x="274.20" y="548.00" font-size="18" font-weight="bold">H</text>
<rect x="345.75" y="673.75" width="16.25" height="24.65" fill="#fff" stroke="#0a0a0a" stroke-width="1.2"/>
<rect x="362.00" y="573.00" width="15.50" height="125.40" fill="#6b6b6b" stroke="#0a0a0a" stroke-width="1.2"/>
<line x1="353.88" y1="653.75" x2="353.88" y2="692.50" stroke="#000" stroke-width="1.3"/>
<line x1="350.68" y1="653.75" x2="357.07" y2="653.75" stroke="#000" stroke-width="1.3"/>
<line x1="350.68" y1="692.50" x2="357.07" y2="692.50" stroke="#000" stroke-width="1.3"/>
<line x1="369.75" y1="566.75" x2="369.75" y2="580.00" stroke="#000" stroke-width="1.3"/>
<line x1="366.55" y1="566.75" x2="372.95" y2="566.75" stroke="#000" stroke-width="1.3"/>
<line x1="366.55" y1="580.00" x2="372.95" y2="580.00" stroke="#000" stroke-width="1.3"/>
<rect x="400.00" y="666.75" width="15.75" height="31.65" fill="#fff" stroke="#0a0a0a" stroke-width="1.2"/>
<rect x="415.75" y="641.75" width="16.00" height="56.65" fill="#6b6b6b" stroke="#0a0a0a" stroke-width="1.2"/>
<line x1="407.88" y1="640.75" x2="407.88" y2="692.00" stroke="#000" stroke-width="1.3"/>
<line x1="404.68" y1="640.75" x2="411.07" y2="640.75" stroke="#000" stroke-width="1.3"/>
<line x1="404.68" y1="692.00" x2="411.07" y2="692.00" stroke="#000" stroke-width="1.3"/>
<line x1="423.75" y1="633.25" x2="423.75" y2="650.00" stroke="#000" stroke-width="1.3"/>
<line x1="420.55" y1="633.25" x2="426.95" y2="633.25" stroke="#000" stroke-width="1.3"/>
<line x1="420.55" y1="650.00" x2="426.95" y2="650.00" stroke="#000" stroke-width="1.3"/>
<rect x="454.25" y="677.50" width="15.75" height="20.90" fill="#fff" stroke="#0a0a0a" stroke-width="1.2"/>
<rect x="470.00" y="649.25" width="16.25" height="49.15" fill="#6b6b6b" stroke="#0a0a0a" stroke-width="1.2"/>
<line x1="462.12" y1="671.25" x2="462.12" y2="683.75" stroke="#000" stroke-width="1.3"/>
<line x1="458.93" y1="671.25" x2="465.32" y2="671.25" stroke="#000" stroke-width="1.3"/>
<line x1="458.93" y1="683.75" x2="465.32" y2="683.75" stroke="#000" stroke-width="1.3"/>
<line x1="478.12" y1="645.75" x2="478.12" y2="652.50" stroke="#000" stroke-width="1.3"/>
<line x1="474.93" y1="645.75" x2="481.32" y2="645.75" stroke="#000" stroke-width="1.3"/>
<line x1="474.93" y1="652.50" x2="481.32" y2="652.50" stroke="#000" stroke-width="1.3"/>
<line x1="334.25" y1="540.65" x2="334.25" y2="698.95" stroke="#222" stroke-width="1.1"/>
<line x1="333.70" y1="698.40" x2="497.40" y2="698.40" stroke="#222" stroke-width="1.1"/>
<line x1="331.85" y1="698.40" x2="334.25" y2="698.40" stroke="#222" stroke-width="1.1"/>
<text x="326.85" y="703.02" font-size="11.5" text-anchor="end" fill="#000">0</text>
<line x1="331.85" y1="678.75" x2="334.25" y2="678.75" stroke="#222" stroke-width="1.1"/>
<text x="326.85" y="683.37" font-size="11.5" text-anchor="end" fill="#000">5</text>
<line x1="331.85" y1="659.10" x2="334.25" y2="659.10" stroke="#222" stroke-width="1.1"/>
<text x="326.85" y="663.72" font-size="11.5" text-anchor="end" fill="#000">10</text>
<line x1="331.85" y1="639.45" x2="334.25" y2="639.45" stroke="#222" stroke-width="1.1"/>
<text x="326.85" y="644.07" font-size="11.5" text-anchor="end" fill="#000">15</text>
<line x1="331.85" y1="619.80" x2="334.25" y2="619.80" stroke="#222" stroke-width="1.1"/>
<text x="326.85" y="624.42" font-size="11.5" text-anchor="end" fill="#000">20</text>
<line x1="331.85" y1="600.15" x2="334.25" y2="600.15" stroke="#222" stroke-width="1.1"/>
<text x="326.85" y="604.77" font-size="11.5" text-anchor="end" fill="#000">25</text>
<line x1="331.85" y1="580.50" x2="334.25" y2="580.50" stroke="#222" stroke-width="1.1"/>
<text x="326.85" y="585.12" font-size="11.5" text-anchor="end" fill="#000">30</text>
<line x1="331.85" y1="560.85" x2="334.25" y2="560.85" stroke="#222" stroke-width="1.1"/>
<text x="326.85" y="565.47" font-size="11.5" text-anchor="end" fill="#000">35</text>
<line x1="331.85" y1="541.20" x2="334.25" y2="541.20" stroke="#222" stroke-width="1.1"/>
<text x="326.85" y="545.82" font-size="11.5" text-anchor="end" fill="#000">40</text>
<line x1="389.60" y1="698.40" x2="389.60" y2="700.80" stroke="#222" stroke-width="1.1"/>
<line x1="443.50" y1="698.40" x2="443.50" y2="700.80" stroke="#222" stroke-width="1.1"/>
<line x1="497.20" y1="698.40" x2="497.20" y2="700.80" stroke="#222" stroke-width="1.1"/>
<text x="361.90" y="712.26" font-size="10.5" text-anchor="middle" fill="#000">NT</text>
<text x="416.50" y="712.44" font-size="11" text-anchor="middle" fill="#000">sh #13104</text>
<text x="472.75" y="712.47" font-size="11.1" text-anchor="middle" fill="#000">sh#04</text>
<text transform="translate(295.30,620.00) rotate(-90)" font-size="12" text-anchor="middle">% CD15 Positive cells</text>
<text transform="translate(311.30,620.50) rotate(-90)" font-size="12" text-anchor="middle">day 7</text>
<rect x="437.00" y="540.50" width="9.50" height="9.00" fill="#fff" stroke="#000" stroke-width="1"/>
<text x="456.25" y="550.02" font-size="10.4" text-anchor="start" fill="#000">- G-CSF</text>
<rect x="437.00" y="558.75" width="9.50" height="9.00" fill="#6b6b6b" stroke="#000" stroke-width="1"/>
<text x="453.25" y="567.52" font-size="10.4" text-anchor="start" fill="#000">+ G-CSF</text>
<path d="M418.75 618.45L418.75 623.05M416.92 619.56L420.58 621.94M420.58 619.56L416.92 621.94" stroke="#222" stroke-width="0.95" fill="none"/><circle cx="418.75" cy="620.75" r="1.05" fill="#222"/>
<path d="M423.90 618.45L423.90 623.05M422.07 619.56L425.73 621.94M425.73 619.56L422.07 621.94" stroke="#222" stroke-width="0.95" fill="none"/><circle cx="423.90" cy="620.75" r="1.05" fill="#222"/>
<path d="M429.05 618.45L429.05 623.05M427.22 619.56L430.88 621.94M430.88 619.56L427.22 621.94" stroke="#222" stroke-width="0.95" fill="none"/><circle cx="429.05" cy="620.75" r="1.05" fill="#222"/>
<path d="M472.25 629.70L472.25 634.30M470.42 630.81L474.08 633.19M474.08 630.81L470.42 633.19" stroke="#222" stroke-width="0.95" fill="none"/><circle cx="472.25" cy="632.00" r="1.05" fill="#222"/>
<path d="M477.40 629.70L477.40 634.30M475.57 630.81L479.23 633.19M479.23 630.81L475.57 633.19" stroke="#222" stroke-width="0.95" fill="none"/><circle cx="477.40" cy="632.00" r="1.05" fill="#222"/>
<path d="M482.55 629.70L482.55 634.30M480.72 630.81L484.38 633.19M484.38 630.81L480.72 633.19" stroke="#222" stroke-width="0.95" fill="none"/><circle cx="482.55" cy="632.00" r="1.05" fill="#222"/>
<text x="6.20" y="750.00" font-size="18" font-weight="bold">I</text>
<rect x="82.50" y="878.00" width="16.25" height="33.75" fill="#fff" stroke="#0a0a0a" stroke-width="1.2"/>
<rect x="98.75" y="772.00" width="15.75" height="139.75" fill="#000" stroke="#0a0a0a" stroke-width="1.2"/>
<line x1="90.62" y1="872.50" x2="90.62" y2="883.25" stroke="#000" stroke-width="1.3"/>
<line x1="87.42" y1="872.50" x2="93.83" y2="872.50" stroke="#000" stroke-width="1.3"/>
<line x1="87.42" y1="883.25" x2="93.83" y2="883.25" stroke="#000" stroke-width="1.3"/>
<line x1="106.62" y1="765.50" x2="106.62" y2="772.00" stroke="#000" stroke-width="1.3"/>
<line x1="103.42" y1="765.50" x2="109.83" y2="765.50" stroke="#000" stroke-width="1.3"/>
<rect x="137.00" y="888.00" width="16.25" height="23.75" fill="#fff" stroke="#0a0a0a" stroke-width="1.2"/>
<rect x="153.25" y="860.50" width="16.00" height="51.25" fill="#000" stroke="#0a0a0a" stroke-width="1.2"/>
<line x1="145.12" y1="884.50" x2="145.12" y2="890.75" stroke="#000" stroke-width="1.3"/>
<line x1="141.93" y1="884.50" x2="148.32" y2="884.50" stroke="#000" stroke-width="1.3"/>
<line x1="141.93" y1="890.75" x2="148.32" y2="890.75" stroke="#000" stroke-width="1.3"/>
<line x1="161.25" y1="851.25" x2="161.25" y2="860.50" stroke="#000" stroke-width="1.3"/>
<line x1="158.05" y1="851.25" x2="164.45" y2="851.25" stroke="#000" stroke-width="1.3"/>
<rect x="192.00" y="894.25" width="16.00" height="17.50" fill="#fff" stroke="#0a0a0a" stroke-width="1.2"/>
<rect x="208.00" y="862.50" width="15.75" height="49.25" fill="#000" stroke="#0a0a0a" stroke-width="1.2"/>
<line x1="200.00" y1="893.25" x2="200.00" y2="895.00" stroke="#000" stroke-width="1.3"/>
<line x1="196.80" y1="893.25" x2="203.20" y2="893.25" stroke="#000" stroke-width="1.3"/>
<line x1="196.80" y1="895.00" x2="203.20" y2="895.00" stroke="#000" stroke-width="1.3"/>
<line x1="215.88" y1="858.75" x2="215.88" y2="862.50" stroke="#000" stroke-width="1.3"/>
<line x1="212.68" y1="858.75" x2="219.07" y2="858.75" stroke="#000" stroke-width="1.3"/>
<line x1="71.25" y1="752.45" x2="71.25" y2="912.30" stroke="#222" stroke-width="1.1"/>
<line x1="70.70" y1="911.75" x2="234.80" y2="911.75" stroke="#222" stroke-width="1.1"/>
<line x1="68.85" y1="911.75" x2="71.25" y2="911.75" stroke="#222" stroke-width="1.1"/>
<text x="63.65" y="916.37" font-size="11.5" text-anchor="end" fill="#000">0</text>
<line x1="68.85" y1="880.00" x2="71.25" y2="880.00" stroke="#222" stroke-width="1.1"/>
<text x="65.65" y="884.62" font-size="11.5" text-anchor="end" fill="#000">0.5</text>
<line x1="68.85" y1="848.25" x2="71.25" y2="848.25" stroke="#222" stroke-width="1.1"/>
<text x="65.65" y="852.87" font-size="11.5" text-anchor="end" fill="#000">1.0</text>
<line x1="68.85" y1="816.50" x2="71.25" y2="816.50" stroke="#222" stroke-width="1.1"/>
<text x="65.65" y="821.12" font-size="11.5" text-anchor="end" fill="#000">1.5</text>
<line x1="68.85" y1="784.75" x2="71.25" y2="784.75" stroke="#222" stroke-width="1.1"/>
<text x="65.65" y="789.37" font-size="11.5" text-anchor="end" fill="#000">2.0</text>
<line x1="68.85" y1="753.00" x2="71.25" y2="753.00" stroke="#222" stroke-width="1.1"/>
<text x="65.65" y="757.62" font-size="11.5" text-anchor="end" fill="#000">2.5</text>
<line x1="126.80" y1="911.75" x2="126.80" y2="914.15" stroke="#222" stroke-width="1.1"/>
<line x1="180.60" y1="911.75" x2="180.60" y2="914.15" stroke="#222" stroke-width="1.1"/>
<line x1="234.60" y1="911.75" x2="234.60" y2="914.15" stroke="#222" stroke-width="1.1"/>
<text x="88.00" y="927.37" font-size="10.8" text-anchor="middle" fill="#000">KH1</text>
<text x="148.75" y="927.37" font-size="10.8" text-anchor="middle" fill="#000">shDEK1</text>
<text x="204.50" y="927.37" font-size="10.8" text-anchor="middle" fill="#000">shDEK2</text>
<text transform="translate(42.42,936.50) rotate(-90)" font-size="12.35" text-anchor="start">Relative <tspan font-style="italic">CEBPE</tspan> mRNA Expression</text>
<rect x="186.50" y="752.50" width="9.50" height="9.00" fill="#fff" stroke="#000" stroke-width="1"/>
<text x="205.50" y="762.02" font-size="10.4" text-anchor="start" fill="#000">d 0</text>
<rect x="186.50" y="772.00" width="9.50" height="9.00" fill="#000" stroke="#000" stroke-width="1"/>
<text x="205.50" y="781.22" font-size="10.4" text-anchor="start" fill="#000">d 4</text>
<path d="M158.83 837.20L158.83 841.80M156.99 838.31L160.66 840.69M160.66 838.31L156.99 840.69" stroke="#222" stroke-width="0.95" fill="none"/><circle cx="158.83" cy="839.50" r="1.05" fill="#222"/>
<path d="M163.97 837.20L163.97 841.80M162.14 838.31L165.81 840.69M165.81 838.31L162.14 840.69" stroke="#222" stroke-width="0.95" fill="none"/><circle cx="163.97" cy="839.50" r="1.05" fill="#222"/>
<path d="M213.83 843.70L213.83 848.30M211.99 844.81L215.66 847.19M215.66 844.81L211.99 847.19" stroke="#222" stroke-width="0.95" fill="none"/><circle cx="213.83" cy="846.00" r="1.05" fill="#222"/>
<path d="M218.97 843.70L218.97 848.30M217.14 844.81L220.81 847.19M220.81 844.81L217.14 847.19" stroke="#222" stroke-width="0.95" fill="none"/><circle cx="218.97" cy="846.00" r="1.05" fill="#222"/>
<text x="274.00" y="750.50" font-size="18" font-weight="bold">J</text>
<rect x="345.75" y="853.75" width="16.25" height="58.25" fill="#fff" stroke="#0a0a0a" stroke-width="1.2"/>
<rect x="362.00" y="763.75" width="15.00" height="148.25" fill="#000" stroke="#0a0a0a" stroke-width="1.2"/>
<line x1="353.88" y1="853.00" x2="353.88" y2="854.50" stroke="#000" stroke-width="1.3"/>
<line x1="350.68" y1="853.00" x2="357.07" y2="853.00" stroke="#000" stroke-width="1.3"/>
<line x1="350.68" y1="854.50" x2="357.07" y2="854.50" stroke="#000" stroke-width="1.3"/>
<line x1="369.50" y1="760.75" x2="369.50" y2="763.75" stroke="#000" stroke-width="1.3"/>
<line x1="366.30" y1="760.75" x2="372.70" y2="760.75" stroke="#000" stroke-width="1.3"/>
<rect x="399.25" y="873.75" width="15.75" height="38.25" fill="#fff" stroke="#0a0a0a" stroke-width="1.2"/>
<rect x="415.00" y="832.00" width="15.75" height="80.00" fill="#000" stroke="#0a0a0a" stroke-width="1.2"/>
<line x1="407.12" y1="863.75" x2="407.12" y2="883.75" stroke="#000" stroke-width="1.3"/>
<line x1="403.93" y1="863.75" x2="410.32" y2="863.75" stroke="#000" stroke-width="1.3"/>
<line x1="403.93" y1="883.75" x2="410.32" y2="883.75" stroke="#000" stroke-width="1.3"/>
<line x1="422.88" y1="815.75" x2="422.88" y2="832.00" stroke="#000" stroke-width="1.3"/>
<line x1="419.68" y1="815.75" x2="426.07" y2="815.75" stroke="#000" stroke-width="1.3"/>
<rect x="453.25" y="887.00" width="16.00" height="25.00" fill="#fff" stroke="#0a0a0a" stroke-width="1.2"/>
<rect x="469.25" y="838.25" width="15.25" height="73.75" fill="#000" stroke="#0a0a0a" stroke-width="1.2"/>
<line x1="461.25" y1="886.50" x2="461.25" y2="887.50" stroke="#000" stroke-width="1.3"/>
<line x1="458.05" y1="886.50" x2="464.45" y2="886.50" stroke="#000" stroke-width="1.3"/>
<line x1="458.05" y1="887.50" x2="464.45" y2="887.50" stroke="#000" stroke-width="1.3"/>
<line x1="476.88" y1="833.25" x2="476.88" y2="838.25" stroke="#000" stroke-width="1.3"/>
<line x1="473.68" y1="833.25" x2="480.07" y2="833.25" stroke="#000" stroke-width="1.3"/>
<line x1="335.00" y1="752.45" x2="335.00" y2="912.55" stroke="#222" stroke-width="1.1"/>
<line x1="334.45" y1="912.00" x2="497.40" y2="912.00" stroke="#222" stroke-width="1.1"/>
<line x1="332.60" y1="912.00" x2="335.00" y2="912.00" stroke="#222" stroke-width="1.1"/>
<text x="328.40" y="916.62" font-size="11.5" text-anchor="end" fill="#000">0</text>
<line x1="332.60" y1="885.50" x2="335.00" y2="885.50" stroke="#222" stroke-width="1.1"/>
<text x="328.40" y="890.12" font-size="11.5" text-anchor="end" fill="#000">0.1</text>
<line x1="332.60" y1="859.00" x2="335.00" y2="859.00" stroke="#222" stroke-width="1.1"/>
<text x="328.40" y="863.62" font-size="11.5" text-anchor="end" fill="#000">0.2</text>
<line x1="332.60" y1="832.50" x2="335.00" y2="832.50" stroke="#222" stroke-width="1.1"/>
<text x="328.40" y="837.12" font-size="11.5" text-anchor="end" fill="#000">0.3</text>
<line x1="332.60" y1="806.00" x2="335.00" y2="806.00" stroke="#222" stroke-width="1.1"/>
<text x="328.40" y="810.62" font-size="11.5" text-anchor="end" fill="#000">0.4</text>
<line x1="332.60" y1="779.50" x2="335.00" y2="779.50" stroke="#222" stroke-width="1.1"/>
<text x="328.40" y="784.12" font-size="11.5" text-anchor="end" fill="#000">0.5</text>
<line x1="332.60" y1="753.00" x2="335.00" y2="753.00" stroke="#222" stroke-width="1.1"/>
<text x="328.40" y="757.62" font-size="11.5" text-anchor="end" fill="#000">0.6</text>
<line x1="390.50" y1="912.00" x2="390.50" y2="914.40" stroke="#222" stroke-width="1.1"/>
<line x1="443.50" y1="912.00" x2="443.50" y2="914.40" stroke="#222" stroke-width="1.1"/>
<line x1="497.20" y1="912.00" x2="497.20" y2="914.40" stroke="#222" stroke-width="1.1"/>
<text x="361.00" y="927.37" font-size="10.8" text-anchor="middle" fill="#000">KH1</text>
<text x="416.60" y="927.37" font-size="10.8" text-anchor="middle" fill="#000">shDEK1</text>
<text x="471.25" y="927.37" font-size="10.8" text-anchor="middle" fill="#000">shDEK2</text>
<text transform="translate(302.42,936.50) rotate(-90)" font-size="12.35" text-anchor="start">Relative <tspan font-style="italic">GCSFR3</tspan> mRNA Expression</text>
<rect x="449.50" y="753.00" width="9.50" height="9.00" fill="#fff" stroke="#000" stroke-width="1"/>
<text x="468.25" y="762.52" font-size="10.4" text-anchor="start" fill="#000">d 0</text>
<rect x="449.50" y="772.50" width="9.50" height="9.00" fill="#000" stroke="#000" stroke-width="1"/>
<text x="468.25" y="781.72" font-size="10.4" text-anchor="start" fill="#000">d 4</text>
<path d="M423.00 797.95L423.00 802.55M421.17 799.06L424.83 801.44M424.83 799.06L421.17 801.44" stroke="#222" stroke-width="0.95" fill="none"/><circle cx="423.00" cy="800.25" r="1.05" fill="#222"/>
<path d="M474.53 815.95L474.53 820.55M472.69 817.06L476.36 819.44M476.36 817.06L472.69 819.44" stroke="#222" stroke-width="0.95" fill="none"/><circle cx="474.53" cy="818.25" r="1.05" fill="#222"/>
<path d="M479.68 815.95L479.68 820.55M477.84 817.06L481.51 819.44M481.51 817.06L477.84 819.44" stroke="#222" stroke-width="0.95" fill="none"/><circle cx="479.68" cy="818.25" r="1.05" fill="#222"/>
</svg>
</body></html>
